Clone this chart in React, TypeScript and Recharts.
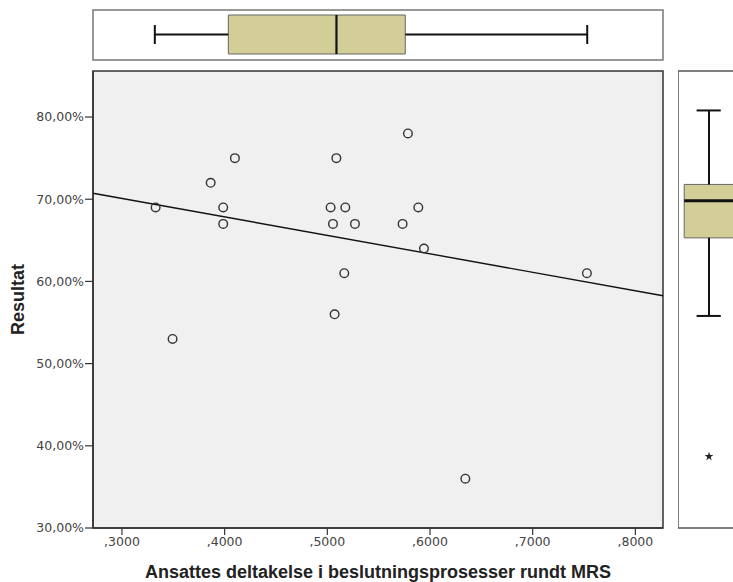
import {
  CartesianGrid,
  Label,
  ReferenceArea,
  ReferenceLine,
  Scatter,
  ScatterChart,
  Symbols,
  XAxis,
  YAxis,
} from "recharts";

// scatter points: participation share (x) vs result in % (y)
const xValues = [
  0.3328, 0.3493, 0.3864, 0.41, 0.3986, 0.3986, 0.5088, 0.5032, 0.5175, 0.5055,
  0.5269, 0.5785, 0.5886, 0.5733, 0.5941, 0.5165, 0.5071, 0.7528, 0.6344,
];
const yValues = [69, 53, 72, 75, 69, 67, 75, 69, 69, 67, 67, 78, 69, 67, 64, 61, 56, 61, 36];

// fitted line, read at the plot edges
const fitX = [0.2718, 0.8269];
const fitY = [70.73, 58.26];

// box plots: [min, q1, median, q3, max]
const xBoxStats = [0.332, 0.4036, 0.5089, 0.5759, 0.7531];
const yBoxStats = [55.8, 65.3, 69.8, 71.8, 80.8];
const yOutliers = [38.7];

const xTicks = [0.3, 0.4, 0.5, 0.6, 0.7, 0.8];
const yTicks = [30, 40, 50, 60, 70, 80];

const X_DOMAIN: [number, number] = [0.2718, 0.8269];
const Y_DOMAIN: [number, number] = [30, 85.6];

const BOX_FILL = "#d3ce97";
const TICK_FONT = "'DejaVu Sans', sans-serif";
const TITLE_FONT = "'Liberation Sans', Arial, sans-serif";

if (typeof document !== "undefined") document.body.style.margin = "0";

const points = xValues.map((x, i) => ({ x, y: yValues[i] }));

function Ring(props: any) {
  return <circle cx={props.cx} cy={props.cy} r={4.3} fill="none" stroke="#333" strokeWidth={1.4} />;
}

function Star(props: any) {
  return <Symbols cx={props.cx} cy={props.cy} type="star" size={24} fill="#222" />;
}

// the top box plot only needs a point so the chart has data to lay out
const Nothing = () => <g />;

const fmtX = (v: number) => v.toFixed(4).replace(/^0\./, ",");
const fmtY = (v: number) => `${v.toFixed(2).replace(".", ",")}%`;

function TopBox() {
  const [min, q1, med, q3, max] = xBoxStats;
  return (
    <ScatterChart width={733} height={70} margin={{ top: 10, right: 70, bottom: 10, left: 93 }}>
      <XAxis type="number" dataKey="x" domain={X_DOMAIN} hide />
      <YAxis type="number" dataKey="y" domain={[0, 1]} hide />
      <ReferenceArea x1={X_DOMAIN[0]} x2={X_DOMAIN[1]} y1={0} y2={1} fill="#fff" fillOpacity={1} stroke="#777" strokeWidth={1.5} />
      <ReferenceLine segment={[{ x: min, y: 0.51 }, { x: q1, y: 0.51 }]} stroke="#111" strokeWidth={2} />
      <ReferenceLine segment={[{ x: q3, y: 0.51 }, { x: max, y: 0.51 }]} stroke="#111" strokeWidth={2} />
      <ReferenceLine segment={[{ x: min, y: 0.32 }, { x: min, y: 0.7 }]} stroke="#111" strokeWidth={2} />
      <ReferenceLine segment={[{ x: max, y: 0.32 }, { x: max, y: 0.7 }]} stroke="#111" strokeWidth={2} />
      <ReferenceArea x1={q1} x2={q3} y1={0.12} y2={0.9} fill={BOX_FILL} fillOpacity={1} stroke="#666" strokeWidth={1} />
      <ReferenceLine segment={[{ x: med, y: 0.12 }, { x: med, y: 0.9 }]} stroke="#111" strokeWidth={2.2} />
      <Scatter data={[{ x: med, y: 0.51 }]} shape={Nothing} isAnimationActive={false} />
    </ScatterChart>
  );
}

function RightBox() {
  const [min, q1, med, q3, max] = yBoxStats;
  return (
    <ScatterChart width={62} height={582} margin={{ top: 71, right: 0, bottom: 54, left: 0 }}>
      <XAxis type="number" dataKey="x" domain={[0, 1]} hide />
      <YAxis type="number" dataKey="y" domain={Y_DOMAIN} hide />
      <ReferenceArea x1={0} x2={1} y1={Y_DOMAIN[0]} y2={Y_DOMAIN[1]} fill="#fff" fillOpacity={1} stroke="#555" strokeWidth={1.5} />
      <ReferenceLine segment={[{ x: 0.5, y: q3 }, { x: 0.5, y: max }]} stroke="#111" strokeWidth={2} />
      <ReferenceLine segment={[{ x: 0.5, y: min }, { x: 0.5, y: q1 }]} stroke="#111" strokeWidth={2} />
      <ReferenceLine segment={[{ x: 0.3, y: max }, { x: 0.69, y: max }]} stroke="#111" strokeWidth={2} />
      <ReferenceLine segment={[{ x: 0.3, y: min }, { x: 0.69, y: min }]} stroke="#111" strokeWidth={2} />
      <ReferenceArea x1={0.1} x2={0.91} y1={q1} y2={q3} fill={BOX_FILL} fillOpacity={1} stroke="#666" strokeWidth={1} />
      <ReferenceLine segment={[{ x: 0.1, y: med }, { x: 0.91, y: med }]} stroke="#111" strokeWidth={3} />
      <Scatter
        data={yOutliers.map((y) => ({ x: 0.5, y }))}
        shape={Star}
        isAnimationActive={false}
      />
    </ScatterChart>
  );
}

function MainScatter() {
  return (
    <ScatterChart width={733} height={582} margin={{ top: 71, right: 70, bottom: 0, left: 0 }}>
      <CartesianGrid fill="#f0f0f0" horizontal={false} vertical={false} stroke="none" />
      <XAxis
        type="number"
        dataKey="x"
        domain={X_DOMAIN}
        ticks={xTicks}
        tickFormatter={fmtX}
        height={54}
        allowDataOverflow
        axisLine={{ stroke: "#333", strokeWidth: 1.5 }}
        tickLine={{ stroke: "#333", strokeWidth: 1.2 }}
        tickSize={7}
        tickMargin={2}
        tick={{ fill: "#444", fontSize: 12.5, fontFamily: TICK_FONT }}
      >
        <Label
          value="Ansattes deltakelse i beslutningsprosesser rundt MRS"
          position="insideBottom"
          offset={4}
          style={{ fontFamily: TITLE_FONT, fontWeight: 700, fontSize: 18, fill: "#222" }}
        />
      </XAxis>
      <YAxis
        type="number"
        dataKey="y"
        domain={Y_DOMAIN}
        ticks={yTicks}
        tickFormatter={fmtY}
        width={93}
        allowDataOverflow
        axisLine={{ stroke: "#333", strokeWidth: 1.5 }}
        tickLine={{ stroke: "#333", strokeWidth: 1.2 }}
        tickSize={8}
        tickMargin={1}
        tick={{ fill: "#444", fontSize: 12.5, fontFamily: TICK_FONT }}
      >
        <Label
          value="Resultat"
          angle={-90}
          position="insideLeft"
          offset={18}
          style={{ textAnchor: "middle", fontFamily: TITLE_FONT, fontWeight: 700, fontSize: 18, fill: "#222" }}
        />
      </YAxis>
      <ReferenceLine
        segment={[
          { x: fitX[0], y: fitY[0] },
          { x: fitX[1], y: fitY[1] },
        ]}
        stroke="#111"
        strokeWidth={1.4}
      />
      <Scatter data={points} shape={Ring} isAnimationActive={false} />
      <ReferenceArea
        x1={X_DOMAIN[0]}
        x2={X_DOMAIN[1]}
        y1={Y_DOMAIN[0]}
        y2={Y_DOMAIN[1]}
        fill="none"
        stroke="#333"
        strokeWidth={1.5}
      />
    </ScatterChart>
  );
}

export default function App() {
  return (
    <div style={{ position: "relative", width: 733, height: 582, overflow: "hidden", background: "#fff" }}>
      <div style={{ position: "absolute", left: 0, top: 0 }}>
        <MainScatter />
      </div>
      <div style={{ position: "absolute", left: 0, top: 0 }}>
        <TopBox />
      </div>
      <div style={{ position: "absolute", left: 678, top: 0 }}>
        <RightBox />
      </div>
    </div>
  );
}
